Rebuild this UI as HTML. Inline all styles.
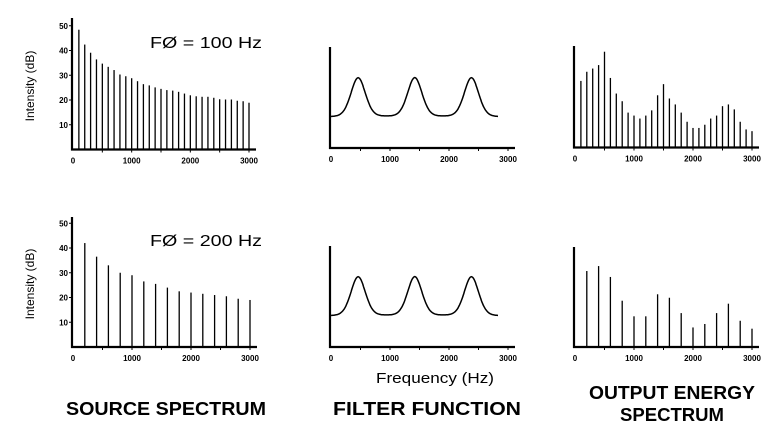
<!DOCTYPE html>
<html><head><meta charset="utf-8"><style>
html,body{margin:0;padding:0;background:#fff;width:775px;height:435px;overflow:hidden}
svg{display:block;font-family:"Liberation Sans",sans-serif}
</style></head><body>
<svg id="chart" width="775" height="435" viewBox="0 0 775 435"></svg>
<script>
// ---- data ----
const srcHz100 = [100,200,300,400,500,600,700,800,900,1000,1100,1200,1300,1400,1500,1600,1700,1800,1900,2000,2100,2200,2300,2400,2500,2600,2700,2800,2900,3000];
const srcDb100 = [48.4,42.4,39.1,36.4,34.7,33.4,32.1,30.3,29.6,28.8,27.6,26.4,25.9,25.1,24.5,24.0,23.8,23.3,22.6,21.9,21.5,21.3,21.3,20.9,20.3,20.2,20.2,19.7,19.5,18.9];
const srcHz200 = [200,400,600,800,1000,1200,1400,1600,1800,2000,2200,2400,2600,2800,3000];
const srcDb200 = [42,36.5,33,30,29,26.5,25.5,24,22.5,22,21.5,21,20.5,19.5,19];
const outDb100 = [26.9,30.6,31.9,33.3,38.7,28.1,21.8,18.7,14.1,12.9,11.7,12.9,15.0,21.1,25.6,19.8,17.4,14.1,10.4,7.9,7.9,9.2,11.7,12.9,16.7,17.4,15.4,10.4,7.3,6.6];
const outDb200 = [30.7,32.7,28.3,18.7,12.4,12.4,21.3,19.9,13.7,7.9,9.3,13.7,17.5,10.6,7.4];
const formantHz = [460,1420,2380];
const formantPeakDb = [28.3,28.3,28.3];
const filterBaseDb = 12.4;
const filterEndHz = 2830;
const yTicks = [10,20,30,40,50];
const xTickLabels = [0,1000,2000,3000];

const NS='http://www.w3.org/2000/svg';
const svg=document.getElementById('chart');
function mk(tag,attrs,parent){const e=document.createElementNS(NS,tag);for(const k in attrs)e.setAttribute(k,attrs[k]);(parent||svg).appendChild(e);return e;}
const PX_PER_DB=2.475;
function makeScale(x0,x3000,base){return {x:f=>x0+(x3000-x0)*f/3000,y:d=>base-d*PX_PER_DB,x0,x3000,base};}

function axes(g,s,top,withY){
  const a=mk('line',{x1:s.x0-1,y1:top,x2:s.x0-1,y2:s.base+1,stroke:'#000','stroke-width':2.2},g);
  
  
  const b=mk('line',{x1:s.x0-2,y1:s.base,x2:s.x3000+7,y2:s.base,stroke:'#000','stroke-width':2.2},g);
  
  
  for(let f=500;f<=3000;f+=500){
    const t=mk('line',{x1:s.x(f),y1:s.base,x2:s.x(f),y2:s.base+3,stroke:'#000','stroke-width':1},g);
    
    
  }
  xTickLabels.forEach(v=>{
    const t=mk('text',{x:s.x(v),y:s.base+14,'font-size':8,'font-weight':'bold','text-anchor':'middle'},g);
    t.textContent=v;
    
    
  });
  if(withY){
    yTicks.forEach(v=>{
      const tk=mk('line',{x1:s.x0-4,y1:s.y(v),x2:s.x0-1,y2:s.y(v),stroke:'#000','stroke-width':1},g);
      
      
      const t=mk('text',{x:s.x0-5,y:s.y(v)+3,'font-size':8,'font-weight':'bold','text-anchor':'end'},g);
      t.textContent=v;
      
      
    });
  }
}
function bars(g,s,hz,db){
  hz.forEach((f,i)=>{
    const r=mk('line',{x1:s.x(f),y1:s.base,x2:s.x(f),y2:s.y(db[i]),stroke:'#000','stroke-width':1.3},g);
    
    
  });
}
function filterCurve(g,s){
  const w=175;let d='';
  for(let f=0;f<=filterEndHz;f+=10){
    let v=filterBaseDb;
    formantHz.forEach((c,i)=>{const u=(f-c)/w;v+=(formantPeakDb[i]-filterBaseDb)*(0.8*Math.exp(-u*u)+0.2/(1+u*u*1.5));});
    d+=(f===0?'M':'L')+s.x(f).toFixed(1)+','+s.y(v).toFixed(1);
  }
  const p=mk('path',{d:d,fill:'none',stroke:'#000','stroke-width':1.5},g);
  
  
}
function panel(name,s,top,withY){const g=mk('g',{});axes(g,s,top,withY);return g;}

const sTL=makeScale(73,249,149.5), sTM=makeScale(331,508,148), sTR=makeScale(575,752,147.5);
const sBL=makeScale(73,250,347), sBM=makeScale(331,508,347), sBR=makeScale(575,752,347);
bars(panel('source-spectrum-100hz',sTL,18,true),sTL,srcHz100,srcDb100);
filterCurve(panel('filter-function-top',sTM,47,false),sTM);
bars(panel('output-spectrum-100hz',sTR,46,false),sTR,srcHz100,outDb100);
bars(panel('source-spectrum-200hz',sBL,217,true),sBL,srcHz200,srcDb200);
filterCurve(panel('filter-function-bottom',sBM,246,false),sBM);
bars(panel('output-spectrum-200hz',sBR,247,false),sBR,srcHz200,outDb200);
</script>
<svg width="775" height="435" style="position:absolute;left:0;top:0">
<text x="31" y="86" font-size="12" text-anchor="middle" transform="rotate(-90 31 86)" dominant-baseline="middle" font-family="Liberation Sans, sans-serif">Intensity (dB)</text>
<text x="31" y="284" font-size="12" text-anchor="middle" transform="rotate(-90 31 284)" dominant-baseline="middle" font-family="Liberation Sans, sans-serif">Intensity (dB)</text>
<text x="150" y="48" font-size="16" textLength="112" lengthAdjust="spacingAndGlyphs" font-family="Liberation Sans, sans-serif">FØ = 100 Hz</text>
<text x="150" y="246" font-size="16" textLength="112" lengthAdjust="spacingAndGlyphs" font-family="Liberation Sans, sans-serif">FØ = 200 Hz</text>
<text x="435" y="383" font-size="15" text-anchor="middle" textLength="118" lengthAdjust="spacingAndGlyphs" font-family="Liberation Sans, sans-serif">Frequency (Hz)</text>
<text x="166" y="415" font-size="18" font-weight="bold" text-anchor="middle" textLength="200" lengthAdjust="spacingAndGlyphs" font-family="Liberation Sans, sans-serif">SOURCE SPECTRUM</text>
<text x="427" y="415" font-size="18" font-weight="bold" text-anchor="middle" textLength="188" lengthAdjust="spacingAndGlyphs" font-family="Liberation Sans, sans-serif">FILTER FUNCTION</text>
<text x="672" y="399" font-size="18" font-weight="bold" text-anchor="middle" textLength="166" lengthAdjust="spacingAndGlyphs" font-family="Liberation Sans, sans-serif">OUTPUT ENERGY</text>
<text x="672" y="421" font-size="18" font-weight="bold" text-anchor="middle" textLength="104" lengthAdjust="spacingAndGlyphs" font-family="Liberation Sans, sans-serif">SPECTRUM</text>
</svg>
</body></html>
